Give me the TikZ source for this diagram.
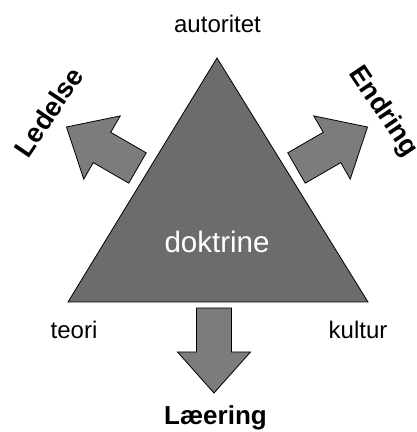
\documentclass[tikz,border=0pt]{standalone}
\usepackage{fontspec}
\setmainfont{Liberation Sans}
\usetikzlibrary{positioning}
\definecolor{triGray}{HTML}{6C6C6C}
\definecolor{arrowGray}{HTML}{7C7C7C}

\begin{document}
\begin{tikzpicture}[
    x=1pt, y=1pt,
    tri/.style={draw=black, line width=0.8pt, fill=triGray, line join=miter},
    blk/.style={draw=black, line width=0.8pt, fill=arrowGray},
    lbl/.style={font=\fontsize{24}{28}\selectfont, anchor=base, inner sep=0pt},
    blbl/.style={font=\fontsize{26}{30}\selectfont\bfseries, inner sep=0pt},
    pics/blockarrow/.style={code={
      \draw[blk] (0,-17.5) -- ({#1-41},-17.5) -- ({#1-41},-36.5) -- (#1,0)
        -- ({#1-41},36.5) -- ({#1-41},17.5) -- (0,17.5) -- cycle;}}
  ]
  \useasboundingbox (0,0) rectangle (417,432);

  % triangle
  \coordinate (apex) at (217,374);
  \coordinate (baseL) at (68,130);
  \coordinate (baseR) at (368,130);
  \draw[tri] (apex) -- (baseL) -- (baseR) -- cycle;

  % block arrows
  \pic[rotate=-90] at (214,124) {blockarrow=85};
  \pic[rotate=150] at (137.5,264) {blockarrow=82};
  \pic[rotate=30] at (296.5,264) {blockarrow=82};

  % corner labels
  \node[lbl] (autoritet) at (217.5,399) {autoritet};
  \node[lbl] (teori) at (74,93) {teori};
  \node[lbl] (kultur) at (358,93) {kultur};
  \node[lbl, font=\fontsize{29.5}{33}\selectfont, text=white] (doktrine) at (217,179) {doktrine};

  % outcome labels
  \node[blbl, anchor=base] (laering) at (215.5,7) {Læering};
  \node[blbl, font=\fontsize{27}{31}\selectfont\bfseries, rotate=56] (ledelse) at (48.5,320) {Ledelse};
  \node[blbl, font=\fontsize{27}{31}\selectfont\bfseries, rotate=-56] (endring) at (383,320) {Endring};
\end{tikzpicture}
\end{document}
